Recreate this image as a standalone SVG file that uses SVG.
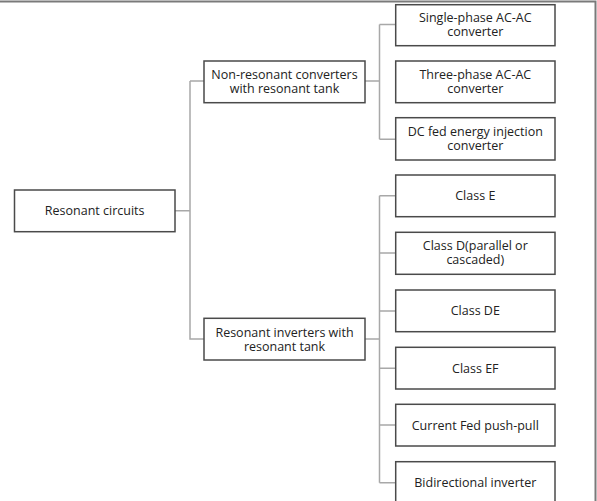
<svg xmlns="http://www.w3.org/2000/svg" width="597" height="501" viewBox="0 0 597 501">
<style>
.box{fill:#fff;stroke:#4a4a4a;stroke-width:1.5}
.lbl{font-family:"Open Sans","Noto Sans",sans-serif;font-size:12.5px;fill:#222;text-anchor:middle}
.con{fill:none;stroke:#a8a8a8;stroke-width:1.5}
.frame{fill:none;stroke:#7a7a7a;stroke-width:2}
</style>
<rect width="597" height="501" fill="#fff"/>
<g id="frame"><path class="frame" d="M0 1.5H595.5V501"/></g>
<g id="connectors">
<path class="con" d="M175 210.8H190M190 81H204M190 81V339H204"/>
<path class="con" d="M365 81H379.5M379.5 24.5V139.3M379.5 24.5H395.7M379.5 139.3H395.7"/>
<path class="con" d="M365 339H379.5M379.5 195.8V482.7M379.5 195.8H395.7M379.5 253H395.7M379.5 311H395.7M379.5 368.3H395.7M379.5 425H395.7M379.5 482.7H395.7"/>
</g>
<g id="root"><rect class="box" x="14.5" y="190" width="160.5" height="41.7"/><text class="lbl" x="94.7" y="215.3">Resonant circuits</text></g>
<g id="nonres"><rect class="box" x="204" y="61" width="161" height="41.7"/><text class="lbl" x="284.5" y="79">Non-resonant converters</text><text class="lbl" x="284.5" y="93">with resonant tank</text></g>
<g id="resinv"><rect class="box" x="204" y="318.3" width="161" height="41.7"/><text class="lbl" x="284.5" y="336.5">Resonant inverters with</text><text class="lbl" x="284.5" y="350.5">resonant tank</text></g>
<g id="single"><rect class="box" x="395.7" y="4.7" width="159.3" height="41"/><text class="lbl" x="475.3" y="21.5">Single-phase AC-AC</text><text class="lbl" x="475.3" y="35.5">converter</text></g>
<g id="three"><rect class="box" x="395.7" y="61" width="159.3" height="41.7"/><text class="lbl" x="475.3" y="78.5">Three-phase AC-AC</text><text class="lbl" x="475.3" y="92.5">converter</text></g>
<g id="dcfed"><rect class="box" x="395.7" y="117.7" width="159.3" height="42.3"/><text class="lbl" x="475.3" y="135.5">DC fed energy injection</text><text class="lbl" x="475.3" y="149.5">converter</text></g>
<g id="classE"><rect class="box" x="395.7" y="175" width="159.3" height="41.7"/><text class="lbl" x="475.3" y="200.3">Class E</text></g>
<g id="classD"><rect class="box" x="395.7" y="232.3" width="159.3" height="42"/><text class="lbl" x="475.3" y="250">Class D(parallel or</text><text class="lbl" x="475.3" y="264">cascaded)</text></g>
<g id="classDE"><rect class="box" x="395.7" y="290" width="159.3" height="41.7"/><text class="lbl" x="475.3" y="315.3">Class DE</text></g>
<g id="classEF"><rect class="box" x="395.7" y="347.3" width="159.3" height="41.7"/><text class="lbl" x="475.3" y="372.6">Class EF</text></g>
<g id="currentfed"><rect class="box" x="395.7" y="404.3" width="159.3" height="41.7"/><text class="lbl" x="475.3" y="429.6">Current Fed push-pull</text></g>
<g id="bidir"><rect class="box" x="395.7" y="461.7" width="159.3" height="42"/><text class="lbl" x="475.3" y="487.3">Bidirectional inverter</text></g>
</svg>
